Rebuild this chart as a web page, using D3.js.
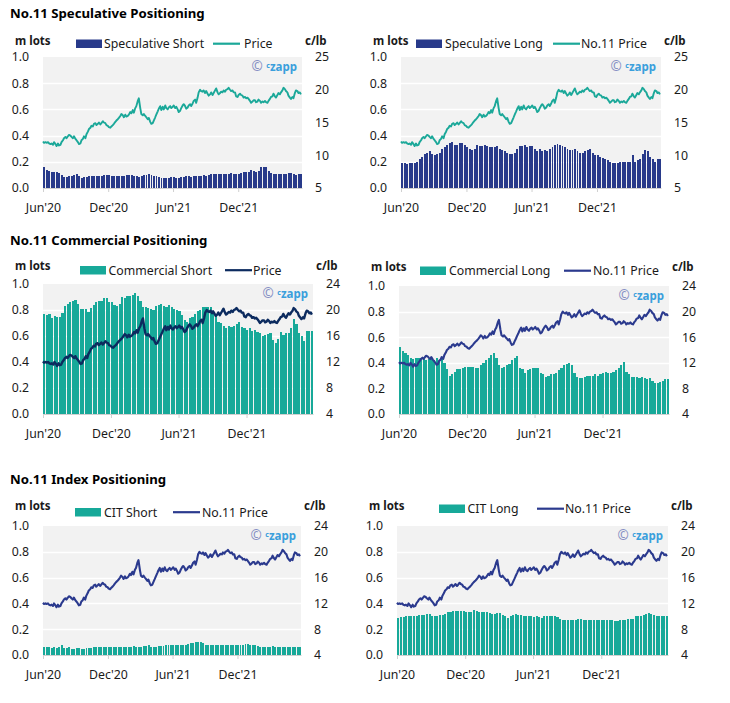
<!DOCTYPE html>
<html><head><meta charset="utf-8">
<script src="https://cdn.jsdelivr.net/npm/d3@7"></script>
<style>
body{margin:0;background:#fff;}
svg text{font-family:"Noto Sans","Open Sans",sans-serif;}
</style></head><body>
<svg id="c" width="730" height="703"></svg>
<script>
// ---------------- DATA ----------------
// No.11 price (c/lb), two readings per week starting 1 Jun 2020 (Mon & Thu)
const no11Price = [
12.1,11.9, 12.0,11.9, 12.0,11.8, 11.7,11.8, 11.6,12.0, 11.7,11.4, 11.8,11.5, 11.6,12.0,
12.3,12.6, 12.8,12.6, 12.9,13.1, 13.0,12.8, 12.6,12.9, 12.5,12.3, 12.0,11.7, 11.8,12.3,
12.5,12.9, 12.6,13.2, 13.6,14.0, 14.2,14.5, 14.4,14.8, 14.9,14.6, 14.8,15.0, 14.7,14.9,
15.2,15.0, 14.9,14.6, 14.5,14.3, 14.2,14.4, 14.6,14.8, 15.1,15.3, 15.5,15.7, 16.0,16.3,
16.1,15.8, 16.2,15.9, 16.0,16.2, 16.6,16.4, 16.9,16.5, 17.2,17.5, 18.3,18.7, 17.2,16.3,
16.1,16.3, 16.0,15.8, 15.5,15.7, 15.1,14.8, 14.9,15.3, 15.8,16.2, 16.7,17.1, 17.5,16.9,
17.4,17.0, 17.6,17.2, 17.0,17.3, 17.5,17.2, 17.4,17.6, 17.2,17.4, 17.0,16.6, 16.8,17.2,
17.6,17.8, 17.5,17.1, 17.3,17.6, 17.8,17.5, 17.9,18.3, 18.5,18.0, 18.8,19.6, 20.0,19.8,
19.7,19.9, 19.5,19.8, 19.4,19.1, 19.3,19.6, 19.2,19.5, 19.9,20.2, 19.6,19.3, 19.5,19.7,
19.6,19.9, 19.7,20.0, 20.1,20.3, 20.0,19.8, 19.9,19.6, 19.6,19.0, 18.9,19.2, 19.4,19.2,
19.1,18.8, 18.9,18.7, 18.8,18.6, 18.3,18.0, 18.2,18.4, 18.4,18.1, 18.2,18.5, 18.3,18.0,
18.2,18.1, 18.3,18.1, 18.0,18.3, 18.6,18.9, 19.0,19.4, 19.0,18.8, 19.2,19.5, 19.3,19.6,
19.9,20.3, 20.1,19.8, 19.6,19.1, 18.8,18.6, 18.9,18.7, 19.5,19.9, 19.8,19.5, 19.6,19.3
];
// Weekly positions (m lots), first week 1 Jun 2020
const specShort = [
0.16,0.14,0.13,0.12,0.125,0.12,0.115,0.10,0.085,0.085,0.09,0.095,0.10,0.105,0.09,0.08,0.085,0.085,0.09,0.09,0.095,0.095,0.09,0.095,0.10,0.10,
0.10,0.095,0.09,0.09,0.09,0.095,0.095,0.10,0.10,0.10,0.095,0.09,0.085,0.095,0.10,0.10,0.105,0.10,0.095,0.09,0.085,0.08,0.08,0.08,0.08,0.085,
0.085,0.08,0.08,0.085,0.085,0.09,0.09,0.085,0.09,0.09,0.095,0.095,0.10,0.095,0.10,0.11,0.11,0.105,0.11,0.105,0.11,0.11,0.11,0.115,0.105,0.11,
0.11,0.115,0.12,0.12,0.12,0.14,0.13,0.12,0.13,0.16,0.16,0.16,0.13,0.115,0.11,0.11,0.11,0.11,0.11,0.11,0.115,0.115,0.105,0.10,0.11,0.11
];
const specLong = [
0.19,0.19,0.185,0.19,0.19,0.19,0.20,0.22,0.24,0.26,0.27,0.28,0.26,0.25,0.26,0.27,0.30,0.31,0.33,0.34,0.35,0.33,0.33,0.34,0.34,0.33,
0.31,0.30,0.29,0.30,0.33,0.32,0.32,0.33,0.32,0.31,0.31,0.31,0.32,0.30,0.29,0.28,0.27,0.26,0.26,0.27,0.30,0.32,0.32,0.33,0.31,0.32,
0.32,0.30,0.28,0.30,0.28,0.29,0.28,0.30,0.31,0.33,0.335,0.33,0.32,0.31,0.30,0.29,0.29,0.30,0.28,0.27,0.27,0.28,0.29,0.30,0.27,0.25,
0.25,0.24,0.23,0.22,0.21,0.20,0.19,0.19,0.19,0.20,0.20,0.20,0.20,0.20,0.25,0.20,0.21,0.22,0.26,0.29,0.28,0.24,0.22,0.20,0.22,0.22
];
const commShort = [
0.77,0.765,0.77,0.74,0.755,0.75,0.75,0.775,0.83,0.845,0.86,0.87,0.875,0.85,0.81,0.81,0.81,0.785,0.815,0.84,0.865,0.87,0.87,0.89,0.89,0.86,
0.86,0.84,0.83,0.845,0.90,0.895,0.905,0.91,0.915,0.93,0.91,0.87,0.82,0.82,0.815,0.81,0.80,0.83,0.84,0.85,0.83,0.82,0.835,0.82,0.805,0.80,
0.79,0.76,0.72,0.71,0.735,0.75,0.77,0.79,0.80,0.82,0.82,0.82,0.82,0.79,0.76,0.71,0.70,0.68,0.66,0.68,0.67,0.68,0.69,0.71,0.67,0.66,
0.65,0.66,0.64,0.645,0.63,0.62,0.60,0.61,0.615,0.62,0.57,0.55,0.58,0.63,0.61,0.62,0.62,0.66,0.73,0.69,0.62,0.60,0.56,0.635,0.64,0.635
];
const commLong = [
0.52,0.49,0.48,0.46,0.44,0.43,0.44,0.44,0.44,0.43,0.42,0.43,0.43,0.42,0.44,0.41,0.43,0.40,0.35,0.30,0.31,0.33,0.35,0.355,0.36,0.365,
0.37,0.37,0.37,0.36,0.36,0.38,0.40,0.42,0.44,0.46,0.48,0.44,0.38,0.36,0.37,0.38,0.39,0.42,0.44,0.45,0.36,0.35,0.32,0.34,0.35,0.36,
0.36,0.36,0.32,0.31,0.29,0.30,0.31,0.31,0.32,0.34,0.36,0.38,0.39,0.40,0.38,0.32,0.29,0.28,0.28,0.29,0.30,0.30,0.30,0.31,0.30,0.31,
0.32,0.33,0.32,0.32,0.33,0.34,0.36,0.38,0.41,0.33,0.31,0.29,0.29,0.29,0.28,0.29,0.28,0.27,0.28,0.26,0.24,0.24,0.25,0.26,0.27,0.27
];
const citShort = [
0.06,0.06,0.06,0.055,0.06,0.055,0.06,0.075,0.055,0.055,0.06,0.05,0.05,0.055,0.055,0.05,0.05,0.055,0.055,0.055,0.06,0.06,0.06,0.06,0.06,0.06,
0.06,0.06,0.06,0.06,0.065,0.06,0.06,0.06,0.065,0.065,0.07,0.065,0.065,0.065,0.07,0.07,0.075,0.065,0.06,0.065,0.07,0.07,0.07,0.075,0.08,0.075,
0.075,0.075,0.075,0.075,0.08,0.08,0.085,0.09,0.095,0.10,0.10,0.10,0.09,0.075,0.075,0.075,0.075,0.075,0.075,0.075,0.075,0.075,0.075,0.08,0.08,0.08,
0.075,0.08,0.08,0.085,0.085,0.08,0.08,0.075,0.07,0.065,0.065,0.065,0.065,0.065,0.07,0.065,0.065,0.065,0.065,0.065,0.065,0.06,0.065,0.065,0.065,0.065
];
const citLong = [
0.29,0.295,0.295,0.30,0.30,0.30,0.30,0.30,0.31,0.31,0.31,0.315,0.315,0.30,0.30,0.30,0.31,0.31,0.32,0.33,0.335,0.34,0.34,0.34,0.34,0.34,
0.335,0.33,0.33,0.345,0.34,0.335,0.33,0.33,0.33,0.325,0.32,0.32,0.325,0.325,0.31,0.30,0.29,0.30,0.31,0.315,0.31,0.31,0.305,0.30,0.30,0.30,
0.295,0.30,0.295,0.29,0.30,0.30,0.30,0.30,0.30,0.295,0.28,0.275,0.275,0.275,0.275,0.275,0.275,0.28,0.28,0.275,0.27,0.27,0.27,0.27,0.27,0.27,
0.27,0.27,0.27,0.27,0.27,0.265,0.265,0.27,0.27,0.275,0.28,0.28,0.28,0.30,0.30,0.30,0.31,0.32,0.325,0.32,0.31,0.30,0.305,0.30,0.30,0.30
];
const leftTicks = [0, 0.2, 0.4, 0.6, 0.8, 1.0];
const rightTicks5 = [5, 10, 15, 20, 25];
const rightTicks4 = [4, 8, 12, 16, 20, 24];
const xTickLabels = ["Jun'20", "Dec'20", "Jun'21", "Dec'21"];
const xTickDates = ["2020-06-01", "2020-12-01", "2021-06-01", "2021-12-01"];
const titles = ["No.11 Speculative Positioning", "No.11 Commercial Positioning", "No.11 Index Positioning"];

// ---------------- LAYOUT ----------------
const NAVY = "#283a8a", TEAL = "#17a999";
const panels = [
 {x0:43, x1:302, y0:57, y1:188, title:titles[0], ty:18, bars:specShort, barName:"Speculative Short", barColor:NAVY,
  lineName:"Price", lineColor:"#1ba899", lw:1.9, rdom:[5,25], rt:rightTicks5, labY:45, legY:48, sw:76, lt:104, ll:213, lt2:244},
 {x0:401, x1:661, y0:57, y1:188, bars:specLong, barName:"Speculative Long", barColor:NAVY,
  lineName:"No.11 Price", lineColor:"#1ba899", lw:1.9, rdom:[5,25], rt:rightTicks5, labY:45, legY:48, sw:416, lt:445, ll:553, lt2:581},
 {x0:43, x1:313, y0:284, y1:414, title:titles[1], ty:245, bars:commShort, barName:"Commercial Short", barColor:TEAL,
  lineName:"Price", lineColor:"#0c2b5f", lw:2.4, rdom:[4,24], rt:rightTicks4, labY:270, legY:274.5, sw:80, lt:108.5, ll:225, lt2:253},
 {x0:399, x1:669, y0:286, y1:414, bars:commLong, barName:"Commercial Long", barColor:TEAL,
  lineName:"No.11 Price", lineColor:"#2b3a8e", lw:2.1, rdom:[4,24], rt:rightTicks4, labY:270.5, legY:275, sw:420, lt:449, ll:564, lt2:593},
 {x0:43, x1:301, y0:526, y1:655, title:titles[2], ty:484, bars:citShort, barName:"CIT Short", barColor:TEAL,
  lineName:"No.11 Price", lineColor:"#2b3a8e", lw:2.1, rdom:[4,24], rt:rightTicks4, labY:510, legY:516.5, sw:75, lt:104, ll:173, lt2:202},
 {x0:397, x1:668, y0:526, y1:655, bars:citLong, barName:"CIT Long", barColor:TEAL,
  lineName:"No.11 Price", lineColor:"#2b3a8e", lw:2.1, rdom:[4,24], rt:rightTicks4, labY:510, legY:513, sw:439, lt:467.5, ll:537, lt2:565}
];

const svg = d3.select("#c");
const start = new Date(2020, 5, 1), end = new Date(2022, 4, 29);
const weekDates = d3.range(104).map(i => d3.timeDay.offset(start, i * 7));
const priceDates = no11Price.map((v, i) => d3.timeDay.offset(start, Math.floor(i / 2) * 7 + (i % 2) * 3));
const tickDates = xTickDates.map(s => d3.timeParse("%Y-%m-%d")(s));

panels.forEach(p => {
  const g = svg.append("g");
  const x = d3.scaleTime().domain([start, end]).range([p.x0, p.x1]);
  const yL = d3.scaleLinear().domain([0, 1]).range([p.y1, p.y0]);
  const yR = d3.scaleLinear().domain(p.rdom).range([p.y1, p.y0]);

  if (p.title) g.append("text").attr("x", 10).attr("y", p.ty).attr("font-size", 13.2).attr("font-weight", "bold").attr("fill", "#000").text(p.title);

  g.append("rect").attr("x", p.x0).attr("y", p.y0).attr("width", p.x1 - p.x0).attr("height", p.y1 - p.y0).attr("fill", "#f2f2f2");
  leftTicks.filter(v => v > 0 && v < 1).forEach(v => {
    g.append("line").attr("x1", p.x0).attr("x2", p.x1).attr("y1", Math.round(yL(v)) + 0.5).attr("y2", Math.round(yL(v)) + 0.5).attr("stroke", "#fff").attr("stroke-width", 1.3);
  });

  const pitch = x(weekDates[1]) - x(weekDates[0]);
  const bw = pitch * 0.78;
  g.append("g").attr("shape-rendering", "crispEdges").selectAll("rect").data(p.bars).join("rect")
    .attr("x", (d, i) => x(weekDates[i]) + 0.3)
    .attr("width", bw)
    .attr("y", d => yL(d))
    .attr("height", d => yL(0) - yL(d))
    .attr("fill", p.barColor);

  const line = d3.line().x((d, i) => x(priceDates[i])).y(d => yR(d));
  g.append("path").datum(no11Price).attr("d", line).attr("fill", "none")
    .attr("stroke", p.lineColor).attr("stroke-width", p.lw).attr("stroke-linejoin", "round");

  // x axis
  const xa = g.append("g").attr("transform", `translate(0,${p.y1})`)
    .call(d3.axisBottom(x).tickValues(tickDates).tickFormat((d, i) => xTickLabels[i]).tickSize(4).tickSizeOuter(0).tickPadding(11));
  xa.select(".domain").attr("stroke", "#d0d0d0");
  xa.selectAll(".tick line").attr("stroke", "#d0d0d0");
  xa.selectAll("text").attr("font-size", 12.3).attr("fill", "#1a1a1a").attr("font-family", "Noto Sans");

  const la = g.append("g").attr("transform", `translate(${p.x0},0)`)
    .call(d3.axisLeft(yL).tickValues(leftTicks).tickFormat(d3.format(".1f")).tickSize(0).tickPadding(14));
  la.select(".domain").remove();
  la.selectAll("text").attr("font-size", 12.3).attr("fill", "#1a1a1a").attr("font-family", "Noto Sans");

  const ra = g.append("g").attr("transform", `translate(${p.x1},0)`)
    .call(d3.axisRight(yR).tickValues(p.rt).tickSize(0).tickPadding(13));
  ra.select(".domain").remove();
  ra.selectAll("text").attr("font-size", 12.3).attr("fill", "#1a1a1a").attr("font-family", "Noto Sans");

  g.append("text").attr("x", p.x0 - 28).attr("y", p.labY).attr("font-size", 11.5).attr("font-weight", "bold").attr("fill", "#1a1a1a").text("m lots");
  g.append("text").attr("x", p.x1 + 3).attr("y", p.labY).attr("font-size", 11.5).attr("font-weight", "bold").attr("fill", "#1a1a1a").text("c/lb");

  // legend
  g.append("rect").attr("x", p.sw).attr("y", p.legY - 8.5).attr("width", 26).attr("height", 8.5).attr("fill", p.barColor);
  g.append("text").attr("x", p.lt).attr("y", p.legY).attr("font-size", 12.3).attr("fill", "#1a1a1a").text(p.barName);
  g.append("line").attr("x1", p.ll).attr("x2", p.ll + 27).attr("y1", p.legY - 4.3).attr("y2", p.legY - 4.3)
    .attr("stroke", p.lineColor).attr("stroke-width", 2.2);
  g.append("text").attr("x", p.lt2).attr("y", p.legY).attr("font-size", 12.3).attr("fill", "#1a1a1a").text(p.lineName);

  // watermark
  const wm = g.append("text").attr("x", p.x1 - 5).attr("y", p.y0 + 14).attr("text-anchor", "end")
    .attr("font-size", 11.5).attr("font-weight", "bold");
  wm.append("tspan").attr("fill", "#8790c4").attr("font-size", 13.5).attr("font-weight", "normal").text("© ");
  wm.append("tspan").attr("fill", "#3a9fdc").attr("font-size", 7).attr("dy", -3).text("c");
  wm.append("tspan").attr("fill", "#3a9fdc").attr("dy", 3).text("zapp");
});
</script>
</body></html>
